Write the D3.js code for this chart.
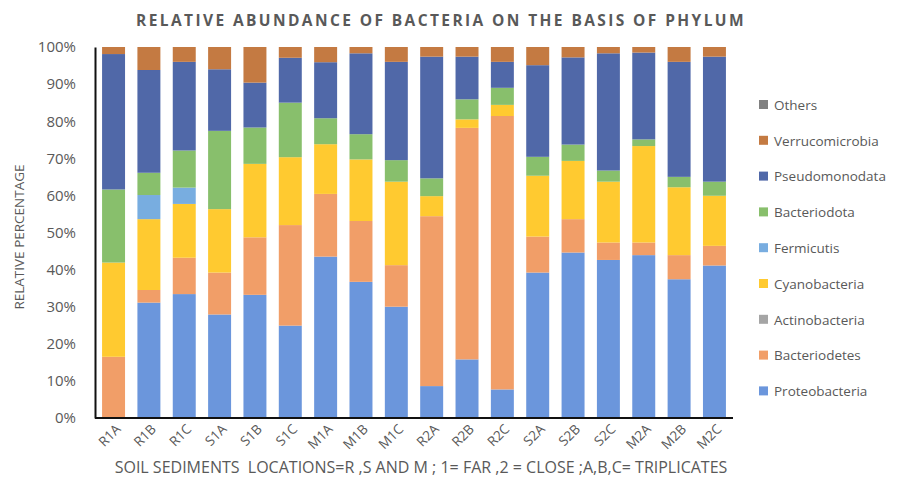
<!DOCTYPE html>
<html>
<head>
<meta charset="utf-8">
<script src="https://cdn.jsdelivr.net/npm/d3@7"></script>
<style>
  html, body { margin: 0; padding: 0; background: #fff; }
  svg { display: block; }
  text { font-family: "Open Sans", "Noto Sans", sans-serif; fill: #595959; }
</style>
</head>
<body>
<svg id="chart" width="906" height="479"></svg>
<script>
// Samples: site (R, S, M), 1 = far / 2 = close, A-C = triplicates
const samples = ["R1A","R1B","R1C","S1A","S1B","S1C","M1A","M1B","M1C",
                 "R2A","R2B","R2C","S2A","S2B","S2C","M2A","M2B","M2C"];

// Relative abundance (%) per phylum, one value per sample
const proteobacteria   = [0, 31.1, 33.4, 27.9, 33.2, 24.9, 43.5, 36.7, 30.0, 8.6, 15.8, 7.7, 39.2, 44.6, 42.6, 43.9, 37.4, 41.1];
const bacteriodetes    = [16.5, 3.4, 9.8, 11.3, 15.5, 27.1, 16.9, 16.4, 11.2, 45.8, 62.4, 73.7, 9.7, 9.0, 4.7, 3.4, 6.5, 5.3];
const actinobacteria   = [0, 0, 0, 0, 0, 0, 0, 0, 0, 0, 0, 0, 0, 0, 0, 0, 0, 0];
const cyanobacteria    = [25.4, 19.1, 14.5, 17.1, 19.8, 18.3, 13.4, 16.6, 22.5, 5.4, 2.3, 3.0, 16.4, 15.7, 16.4, 26.0, 18.3, 13.5];
const fermicutis       = [0, 6.5, 4.4, 0, 0, 0, 0, 0, 0, 0, 0, 0, 0, 0, 0, 0, 0, 0];
const bacteriodota     = [19.7, 6.0, 10.0, 21.1, 9.8, 14.7, 7.0, 6.8, 5.8, 4.8, 5.4, 4.6, 5.1, 4.4, 3.0, 1.8, 2.8, 3.8];
const pseudomonodata   = [36.5, 27.7, 23.9, 16.6, 12.1, 12.1, 15.1, 21.8, 26.5, 32.8, 11.5, 7.0, 24.7, 23.5, 31.6, 23.4, 31.0, 33.7];
const verrucomicrobia  = [1.9, 6.2, 4.0, 6.0, 9.6, 2.9, 4.1, 1.7, 4.0, 2.6, 2.6, 4.0, 4.9, 2.8, 1.7, 1.5, 4.0, 2.6];
const others           = [0, 0, 0, 0, 0, 0, 0, 0, 0, 0, 0, 0, 0, 0, 0, 0, 0, 0];

// Stack order, bottom to top
const phyla = ["Proteobacteria","Bacteriodetes","Actinobacteria","Cyanobacteria","Fermicutis",
               "Bacteriodota","Pseudomonodata","Verrucomicrobia","Others"];
const phylumValues = [proteobacteria, bacteriodetes, actinobacteria, cyanobacteria, fermicutis,
                      bacteriodota, pseudomonodata, verrucomicrobia, others];
const colors = ["#6b96dc","#f19e68","#a5a5a5","#ffca30","#78ade0",
                "#88bf6c","#5068a8","#c47a42","#808080"];

const yTicks = [0, 10, 20, 30, 40, 50, 60, 70, 80, 90, 100];

const table = samples.map((s, i) => {
  const row = { sample: s };
  phyla.forEach((p, k) => { row[p] = phylumValues[k][i]; });
  return row;
});

const svg = d3.select("#chart");
const margin = { left: 95, right: 173, top: 47, bottom: 61 };
const W = 906, H = 479;

const x = d3.scaleBand().domain(samples)
  .range([margin.left, W - margin.right]).paddingInner(0.35).paddingOuter(0.2);
const y = d3.scaleLinear().domain([0, 100]).range([H - margin.bottom, margin.top]);
const color = d3.scaleOrdinal().domain(phyla).range(colors);

const series = d3.stack().keys(phyla)(table);

// Bars
svg.append("g").selectAll("g").data(series).join("g")
  .attr("fill", d => color(d.key))
  .selectAll("rect").data(d => d).join("rect")
  .attr("x", d => x(d.data.sample))
  .attr("width", x.bandwidth())
  .attr("y", d => y(d[1]))
  .attr("height", d => Math.max(0, y(d[0]) - y(d[1])));

// Y axis
const yAxis = svg.append("g")
  .attr("transform", `translate(${margin.left},0)`)
  .call(d3.axisLeft(y).tickValues(yTicks).tickFormat(d => d + "%").tickSize(0).tickPadding(19));
yAxis.select(".domain").attr("stroke", "#111").attr("stroke-width", 2);
yAxis.selectAll("text").attr("font-size", 15).style("fill", "#595959");

// X axis
const xAxis = svg.append("g")
  .attr("transform", `translate(0,${H - margin.bottom})`)
  .call(d3.axisBottom(x).tickSize(0).tickPadding(0));
xAxis.select(".domain").attr("stroke", "#111").attr("stroke-width", 2)
  .attr("d", `M${margin.left},0H${W - margin.right}`);
xAxis.selectAll("text")
  .attr("font-size", 13.5)
  .attr("text-anchor", "end")
  .attr("dy", 0)
  .attr("transform", "translate(8,12) rotate(-45)")
  .style("fill", "#595959");

// Title
svg.append("text")
  .attr("x", 441).attr("y", 26)
  .attr("text-anchor", "middle")
  .attr("font-size", 15.5).attr("font-weight", "bold")
  .attr("letter-spacing", 2.4)
  .text("RELATIVE ABUNDANCE OF BACTERIA ON THE BASIS OF PHYLUM");

// Axis titles
svg.append("text")
  .attr("transform", "translate(24,237) rotate(-90)")
  .attr("text-anchor", "middle")
  .attr("font-size", 13.5)
  .text("RELATIVE PERCENTAGE");

svg.append("text")
  .attr("x", 421).attr("y", 473)
  .attr("text-anchor", "middle")
  .attr("font-size", 16)
  .style("white-space", "pre")
  .text("SOIL SEDIMENTS  LOCATIONS=R ,S AND M ; 1= FAR ,2 = CLOSE ;A,B,C= TRIPLICATES");

// Legend, top entry is the top of the stack
const legendItems = phyla.slice().reverse();
const legend = svg.append("g").selectAll("g").data(legendItems).join("g")
  .attr("transform", (d, i) => `translate(759,${105 + i * 35.8})`);
legend.append("rect")
  .attr("x", 0).attr("y", -5).attr("width", 9).attr("height", 9)
  .attr("fill", d => color(d));
legend.append("text")
  .attr("x", 15).attr("y", 0).attr("dy", "0.35em")
  .attr("font-size", 13.5)
  .text(d => d);
</script>
</body>
</html>
